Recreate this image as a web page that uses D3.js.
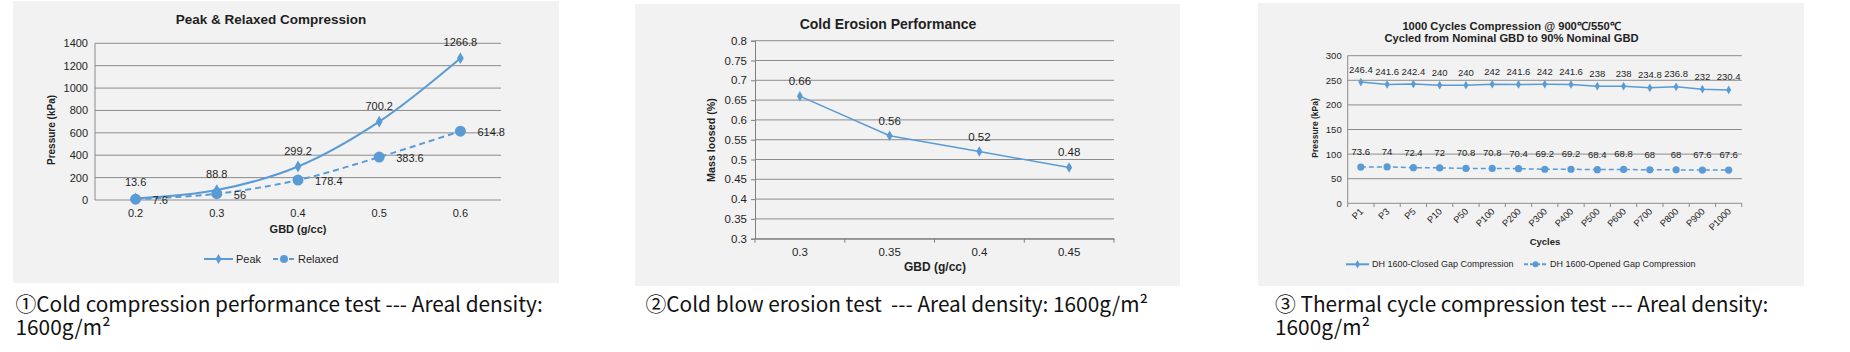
<!DOCTYPE html>
<html>
<head>
<meta charset="utf-8">
<script src="https://cdn.jsdelivr.net/npm/d3@7"></script>
<style>
  body { margin: 0; background: #fff; position: relative; width: 1850px; height: 352px; overflow: hidden; }
  svg { position: absolute; left: 0; top: 0; }
  text { font-family: "Liberation Sans", Arial, sans-serif; fill: #1f1f1f; }
  .caption { position: absolute; font-family: "Noto Sans CJK SC", "Noto Sans", sans-serif; font-size: 20.8px;
             line-height: 23px; white-space: pre; color: #111; }
</style>
</head>
<body>
<svg id="chart" width="1850" height="352"></svg>
<script>
// chart 1 - cold compression
const compGBD = ["0.2", "0.3", "0.4", "0.5", "0.6"];
const peakVals = [13.6, 88.8, 299.2, 700.2, 1266.8];
const relaxedVals = [7.6, 56, 178.4, 383.6, 614.8];
const compTicks = [0, 200, 400, 600, 800, 1000, 1200, 1400];

// chart 2 - cold erosion
const erosionGBD = ["0.3", "0.35", "0.4", "0.45"];
const massLoss = [0.66, 0.56, 0.52, 0.48];
const erosionTicks = [0.3, 0.35, 0.4, 0.45, 0.5, 0.55, 0.6, 0.65, 0.7, 0.75, 0.8];

// chart 3 - thermal cycles
const cycleLabels = ["P1", "P3", "P5", "P10", "P50", "P100", "P200", "P300", "P400", "P500", "P600", "P700", "P800", "P900", "P1000"];
const closedGap = [246.4, 241.6, 242.4, 240, 240, 242, 241.6, 242, 241.6, 238, 238, 234.8, 236.8, 232, 230.4];
const openedGap = [73.6, 74, 72.4, 72, 70.8, 70.8, 70.4, 69.2, 69.2, 68.4, 68.8, 68, 68, 67.6, 67.6];
const cycleTicks = [0, 50, 100, 150, 200, 250, 300];

const captions = [
  ["①Cold compression performance test --- Areal density:", "1600g/m²"],
  ["②Cold blow erosion test  --- Areal density: 1600g/m²"],
  ["③ Thermal cycle compression test --- Areal density:", "1600g/m²"]
];

const blue = "#5b9bd5";
const gridCol = "#8c8c8c";
const svg = d3.select("#chart");

// gray panels
const panels = [
  { x: 13, y: 1, w: 546, h: 282 },
  { x: 635, y: 4, w: 545, h: 282 },
  { x: 1258, y: 3, w: 546, h: 283 }
];
svg.selectAll("rect.panel").data(panels).join("rect")
  .attr("class", "panel")
  .attr("x", d => d.x).attr("y", d => d.y)
  .attr("width", d => d.w).attr("height", d => d.h)
  .attr("fill", "#f2f2f2");

const diamond = d3.symbol().type(d3.symbolDiamond);

function legendItem(g, x0, x1, y, dash, marker, label, fs) {
  g.append("line").attr("x1", x0).attr("x2", x1).attr("y1", y).attr("y2", y)
    .attr("stroke", blue).attr("stroke-width", 2).attr("stroke-dasharray", dash);
  if (marker.type === "circle") {
    g.append("circle").attr("cx", (x0 + x1) / 2).attr("cy", y).attr("r", marker.r).attr("fill", blue);
  } else {
    g.append("path").attr("d", diamond.size(marker.size)()).attr("transform", `translate(${(x0 + x1) / 2},${y})`).attr("fill", blue);
  }
  g.append("text").attr("x", x1 + 3).attr("y", y + fs * 0.35).style("font-size", fs + "px").text(label);
}

// ---------- chart 1 ----------
{
  const g = svg.append("g");
  const x = d3.scalePoint().domain(compGBD).range([95, 501]).padding(0.5);
  const y = d3.scaleLinear().domain([0, 1400]).range([200, 43.3]);

  g.selectAll("line.grid").data(compTicks).join("line")
    .attr("x1", 95).attr("x2", 501)
    .attr("y1", d => y(d)).attr("y2", d => y(d))
    .attr("stroke", gridCol).attr("stroke-width", 1);
  g.append("line").attr("x1", 95).attr("x2", 95).attr("y1", y(1400)).attr("y2", y(0))
    .attr("stroke", gridCol);

  g.selectAll("text.yt").data(compTicks).join("text")
    .attr("x", 88).attr("y", d => y(d) + 4)
    .attr("text-anchor", "end").style("font-size", "11px").text(d => d);
  g.selectAll("text.xt").data(compGBD).join("text")
    .attr("x", d => x(d)).attr("y", 217)
    .attr("text-anchor", "middle").style("font-size", "11px").text(d => d);

  g.append("text").attr("x", 271).attr("y", 24).attr("text-anchor", "middle")
    .style("font-size", "13.5px").style("font-weight", "bold").text("Peak & Relaxed Compression");
  g.append("text").attr("x", 298).attr("y", 233).attr("text-anchor", "middle")
    .style("font-size", "11px").style("font-weight", "bold").text("GBD (g/cc)");
  g.append("text").attr("transform", "translate(55,130) rotate(-90)").attr("text-anchor", "middle")
    .style("font-size", "10px").style("font-weight", "bold").text("Pressure (kPa)");

  const peak = compGBD.map((c, i) => ({ c, v: peakVals[i] }));
  const relaxed = compGBD.map((c, i) => ({ c, v: relaxedVals[i] }));
  const line = d3.line().x(d => x(d.c)).y(d => y(d.v)).curve(d3.curveCatmullRom);

  g.append("path").datum(peak).attr("d", line).attr("fill", "none")
    .attr("stroke", blue).attr("stroke-width", 2);
  g.append("path").datum(relaxed).attr("d", line).attr("fill", "none")
    .attr("stroke", blue).attr("stroke-width", 2).attr("stroke-dasharray", "6,4");

  g.selectAll("path.pk").data(peak).join("path")
    .attr("d", diamond.size(40)()).attr("transform", d => `translate(${x(d.c)},${y(d.v)})`).attr("fill", blue);
  g.selectAll("circle.rl").data(relaxed).join("circle")
    .attr("cx", d => x(d.c)).attr("cy", d => y(d.v)).attr("r", 5.5).attr("fill", blue);

  g.selectAll("text.pl").data(peak).join("text")
    .attr("x", d => x(d.c)).attr("y", d => y(d.v) - 12)
    .attr("text-anchor", "middle").style("font-size", "11px").text(d => d.v);
  g.selectAll("text.rlb").data(relaxed).join("text")
    .attr("x", d => x(d.c) + 17).attr("y", d => y(d.v) + 5)
    .style("font-size", "11px").text(d => d.v);

  legendItem(g, 204, 233, 259, null, { type: "diamond", size: 30 }, "Peak", 11);
  legendItem(g, 273, 295, 259, "5,3", { type: "circle", r: 4 }, "Relaxed", 11);
}

// ---------- chart 2 ----------
{
  const g = svg.append("g");
  const x = d3.scaleBand().domain(erosionGBD).range([755, 1114]);
  const y = d3.scaleLinear().domain([0.3, 0.8]).range([238.7, 40.7]);

  g.selectAll("line.grid").data(erosionTicks).join("line")
    .attr("x1", 755).attr("x2", 1114)
    .attr("y1", d => y(d)).attr("y2", d => y(d))
    .attr("stroke", gridCol);

  const yAxis = d3.axisLeft(y).tickValues(erosionTicks).tickSize(4).tickFormat(d => +d.toFixed(2));
  const ya = g.append("g").attr("transform", "translate(755,0)").call(yAxis);
  ya.select(".domain").attr("stroke", "#7f7f7f");
  ya.selectAll(".tick line").attr("stroke", "#7f7f7f");
  ya.selectAll(".tick text").attr("x", -8).style("font-size", "11.5px").style("font-family", null).attr("fill", null);

  const xAxis = d3.axisBottom(x).tickSize(0).tickSizeOuter(0);
  const xa = g.append("g").attr("transform", "translate(0,238.7)").call(xAxis);
  xa.select(".domain").attr("stroke", "#7f7f7f");
  xa.selectAll(".tick text").attr("dy", null).attr("y", 17).style("font-size", "11.5px").style("font-family", null).attr("fill", null);
  // tick marks at category boundaries
  const edges = erosionGBD.map(c => x(c)).concat([x.range()[1]]);
  g.selectAll("line.xedge").data(edges).join("line")
    .attr("x1", d => d).attr("x2", d => d).attr("y1", 238.7).attr("y2", 242.7)
    .attr("stroke", "#7f7f7f");

  g.append("text").attr("x", 888).attr("y", 29).attr("text-anchor", "middle")
    .style("font-size", "14px").style("font-weight", "bold").text("Cold Erosion Performance");
  g.append("text").attr("x", 935).attr("y", 271).attr("text-anchor", "middle")
    .style("font-size", "12px").style("font-weight", "bold").text("GBD (g/cc)");
  g.append("text").attr("transform", "translate(715,140) rotate(-90)").attr("text-anchor", "middle")
    .style("font-size", "10.7px").style("font-weight", "bold").text("Mass loosed (%)");

  const pts = erosionGBD.map((c, i) => ({ c, v: massLoss[i] }));
  const cx = d => x(d.c) + x.bandwidth() / 2;
  const line = d3.line().x(cx).y(d => y(d.v));
  g.append("path").datum(pts).attr("d", line).attr("fill", "none")
    .attr("stroke", blue).attr("stroke-width", 1.5);
  g.selectAll("path.mk").data(pts).join("path")
    .attr("d", diamond.size(32)()).attr("transform", d => `translate(${cx(d)},${y(d.v)})`).attr("fill", blue);
  g.selectAll("text.lb").data(pts).join("text")
    .attr("x", cx).attr("y", d => y(d.v) - 11)
    .attr("text-anchor", "middle").style("font-size", "11.5px").text(d => d.v);
}

// ---------- chart 3 ----------
{
  const g = svg.append("g");
  const x = d3.scaleBand().domain(cycleLabels).range([1347.7, 1741.8]);
  const y = d3.scaleLinear().domain([0, 300]).range([203.3, 55.7]);

  g.selectAll("line.grid").data(cycleTicks).join("line")
    .attr("x1", 1347.7).attr("x2", 1741.8)
    .attr("y1", d => y(d)).attr("y2", d => y(d))
    .attr("stroke", gridCol);
  g.append("line").attr("x1", 1347.7).attr("x2", 1347.7).attr("y1", y(300)).attr("y2", y(0))
    .attr("stroke", gridCol);
  const edges = cycleLabels.map(c => x(c)).concat([x.range()[1]]);
  g.selectAll("line.xedge").data(edges).join("line")
    .attr("x1", d => d).attr("x2", d => d).attr("y1", 203.3).attr("y2", 207)
    .attr("stroke", gridCol);

  g.selectAll("text.yt").data(cycleTicks).join("text")
    .attr("x", 1341.7).attr("y", d => y(d) + 3.5)
    .attr("text-anchor", "end").style("font-size", "9.5px").text(d => d);
  const cx = c => x(c) + x.bandwidth() / 2;
  g.selectAll("text.xt").data(cycleLabels).join("text")
    .attr("transform", d => `translate(${cx(d) + 3},${212}) rotate(-45)`)
    .attr("text-anchor", "end").style("font-size", "9.3px").text(d => d);

  g.append("text").attr("x", 1511.5).attr("y", 29.5).attr("text-anchor", "middle")
    .style("font-size", "11.2px").style("font-weight", "bold").text("1000 Cycles Compression @ 900℃/550℃");
  g.append("text").attr("x", 1511.5).attr("y", 42.3).attr("text-anchor", "middle")
    .style("font-size", "11.2px").style("font-weight", "bold").text("Cycled from Nominal GBD to 90% Nominal GBD");
  g.append("text").attr("x", 1545).attr("y", 244.5).attr("text-anchor", "middle")
    .style("font-size", "9.5px").style("font-weight", "bold").text("Cycles");
  g.append("text").attr("transform", "translate(1318,128) rotate(-90)").attr("text-anchor", "middle")
    .style("font-size", "8.5px").style("font-weight", "bold").text("Pressure (kPa)");

  const closed = cycleLabels.map((c, i) => ({ c, v: closedGap[i] }));
  const opened = cycleLabels.map((c, i) => ({ c, v: openedGap[i] }));
  const line = d3.line().x(d => cx(d.c)).y(d => y(d.v));
  g.append("path").datum(closed).attr("d", line).attr("fill", "none")
    .attr("stroke", blue).attr("stroke-width", 1.5);
  g.append("path").datum(opened).attr("d", line).attr("fill", "none")
    .attr("stroke", blue).attr("stroke-width", 1.5).attr("stroke-dasharray", "5,3");
  g.selectAll("path.cm").data(closed).join("path")
    .attr("d", diamond.size(22)()).attr("transform", d => `translate(${cx(d.c)},${y(d.v)})`).attr("fill", blue);
  g.selectAll("circle.om").data(opened).join("circle")
    .attr("cx", d => cx(d.c)).attr("cy", d => y(d.v)).attr("r", 3.6).attr("fill", blue);

  g.selectAll("text.cl").data(closed).join("text")
    .attr("x", d => cx(d.c)).attr("y", d => y(d.v) - 9.5)
    .attr("text-anchor", "middle").style("font-size", "9.5px").text(d => d.v);
  g.selectAll("text.ol").data(opened).join("text")
    .attr("x", d => cx(d.c)).attr("y", d => y(d.v) - 12)
    .attr("text-anchor", "middle").style("font-size", "9.5px").text(d => d.v);

  legendItem(g, 1346, 1369, 264.3, null, { type: "diamond", size: 20 }, "DH 1600-Closed Gap Compression", 9);
  legendItem(g, 1524, 1547, 264.3, "4,2", { type: "circle", r: 3 }, "DH 1600-Opened Gap Compression", 9);
}

// ---------- captions (html, one block per panel) ----------
const capX = [15.5, 645.5, 1275];
d3.select("body").selectAll("div.caption").data(captions).join("div")
  .attr("class", "caption")
  .style("left", (d, i) => capX[i] + "px")
  .style("top", "291.5px")
  .text(d => d.join("\n"));
</script>
</body>
</html>
